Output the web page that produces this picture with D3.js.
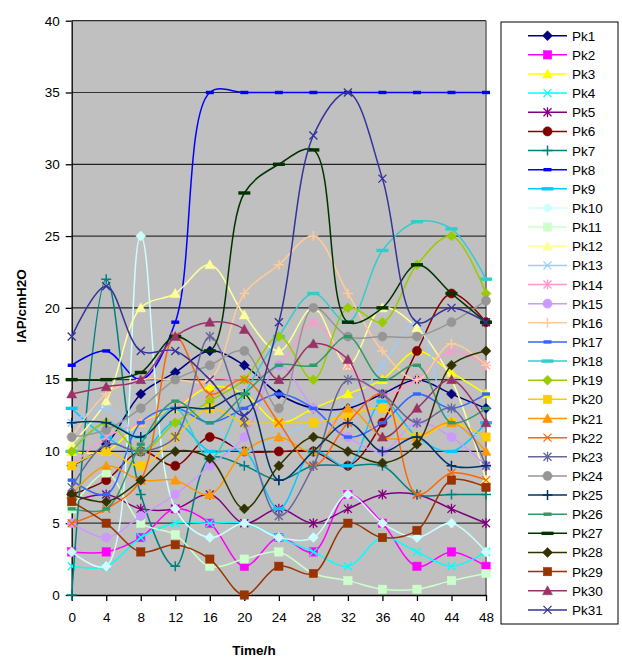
<!DOCTYPE html>
<html>
<head>
<meta charset="utf-8">
<script src="https://cdn.jsdelivr.net/npm/d3@7"></script>
<style>
  body { margin: 0; background: #fff; }
  text { font-family: Arial, "Liberation Sans", sans-serif; }
</style>
</head>
<body>
<svg id="chart" width="622" height="657"></svg>
<script>
// Hours after admission and the axis tick values
const hours = [0, 4, 8, 12, 16, 20, 24, 28, 32, 36, 40, 44, 48];
const yTicks = [0, 5, 10, 15, 20, 25, 30, 35, 40];

// Intra-abdominal pressure (cmH2O) per patient at each time point
const pk1  = [9, 10.5, 14, 15.5, 17, 16, 14, 13, 13, 14, 15, 14, 13];
const pk2  = [3, 3, 4, 6, 5, 2, 4, 3, 7, 5, 2, 3, 2];
const pk3  = [10, 10, 12, 13, 14.5, 14, 12, 13, 14, 15, 17, 15.5, 14];
const pk4  = [2, 2, 4, 5, 5, 5, 4, 3, 2, 4, 3, 2, 3];
const pk5  = [6.5, 7, 6, 6, 7, 5, 6, 5, 6, 7, 7, 6, 5];
const pk6  = [7, 8, 10, 9, 11, 10, 10, 10, 9, 12, 17, 21, 19];
const pk7  = [0, 22, 7, 2, 9.5, 9, 8, 9, 9, 9, 7, 7, 7];
const pk8  = [16, 17, 15, 19, 35, 35, 35, 35, 35, 35, 35, 35, 35];
const pk9  = [13, 11, 10, 12, 10, 10, 6, 10, 9, 13.5, 11, 10, 12];
const pk10 = [3, 2, 25, 6, 4, 5, 4, 4, 7, 5, 4, 5, 3];
const pk11 = [6, 8.5, 5, 4.2, 2, 2.5, 3, 1.5, 1, 0.4, 0.4, 1, 1.5];
const pk12 = [10.5, 13.5, 20, 21, 23, 19.5, 17, 20, 16, 20, 18.6, 15, 8];
const pk13 = [12, 13, 11, 13, 12, 10, 11, 12, 13, 16, 19, 12, 11];
const pk14 = [9, 11, 12, 13, 15, 15, 16, 19, 16, 14, 15, 17, 16];
const pk15 = [5, 4, 5.5, 7, 9, 11, 16, 13, 11, 10, 12, 11, 9];
const pk16 = [11, 14, 15, 15, 15, 21, 23, 25, 21, 17, 15, 17.5, 16];
const pk17 = [8, 7, 12, 13, 12, 13, 14, 13, 11, 12, 14, 13, 14];
const pk18 = [10, 12, 11, 13, 9.5, 14, 18, 21, 19, 24, 26, 25.5, 22];
const pk19 = [10, 12, 10, 12, 13.5, 15, 18, 15, 20, 19, 23, 25, 21];
const pk20 = [9, 10, 9, 11, 13, 12, 12, 12, 12.5, 13, 11, 12, 11];
const pk21 = [7, 9, 8, 8, 7, 10, 11, 10, 13, 11, 11, 12, 10];
const pk22 = [5, 6, 8, 18, 14, 15, 12, 9, 12, 14, 7, 8.5, 8];
const pk23 = [7.5, 10.5, 10, 11, 18, 12, 5.5, 9, 15, 14, 12, 13, 9];
const pk24 = [11, 11.5, 13, 15, 16, 17, 13, 20, 18, 18, 18, 19, 20.5];
const pk25 = [12, 12, 11, 13, 13, 14, 8, 10, 12, 10, 11, 9, 9];
const pk26 = [6, 6, 10.5, 13.5, 12, 14, 16, 16, 18, 15, 16, 12, 13];
const pk27 = [15, 15, 15.5, 18, 17, 28, 30, 31, 19, 20, 23, 21, 19];
const pk28 = [7, 6.5, 8, 10, 9.5, 6, 9, 11, 10, 9.2, 10.5, 16, 17];
const pk29 = [6.5, 5, 3, 3.5, 2.5, 0, 2, 1.5, 5, 4, 4.5, 8, 7.5];
const pk30 = [14, 14.5, 15, 18, 19, 18.5, 15, 17.5, 16.4, 11, 13, 15, 12];
const pk31 = [18, 21.5, 17, 17, 15, 12.5, 19, 32, 35, 29, 19, 20, 19];

const seriesValues = [pk1, pk2, pk3, pk4, pk5, pk6, pk7, pk8, pk9, pk10, pk11,
  pk12, pk13, pk14, pk15, pk16, pk17, pk18, pk19, pk20, pk21, pk22, pk23, pk24,
  pk25, pk26, pk27, pk28, pk29, pk30, pk31];
const seriesNames = seriesValues.map((_, i) => "Pk" + (i + 1));
const seriesColors = ["#000080", "#FF00FF", "#FFFF00", "#00FFFF", "#800080",
  "#800000", "#008080", "#0000FF", "#00CCFF", "#CCFFFF", "#CCFFCC", "#FFFF99",
  "#99CCFF", "#FF99CC", "#CC99FF", "#FFCC99", "#3366FF", "#33CCCC", "#99CC00",
  "#FFCC00", "#FF9900", "#FF6600", "#666699", "#969696", "#003366", "#339966",
  "#003300", "#333300", "#993300", "#993366", "#333399"];
const markerCycle = ["diamond", "square", "triangle", "x", "star", "circle",
  "plus", "shortdash", "longdash"];

const svg = d3.select("#chart");

const plot = { left: 71.7, right: 486, top: 20.7, bottom: 595 };
const x = d3.scaleLinear().domain([0, 48]).range([plot.left, plot.right]);
const y = d3.scaleLinear().domain([0, 40]).range([plot.bottom, plot.top]);

// plot area
svg.append("rect")
  .attr("x", plot.left).attr("y", plot.top)
  .attr("width", plot.right - plot.left).attr("height", plot.bottom - plot.top)
  .attr("fill", "#C0C0C0");
svg.append("line").attr("x1", plot.left).attr("x2", plot.right)
  .attr("y1", plot.top).attr("y2", plot.top).attr("stroke", "#000").attr("stroke-width", 1);
svg.append("line").attr("x1", plot.right).attr("x2", plot.right)
  .attr("y1", plot.top).attr("y2", plot.bottom).attr("stroke", "#666").attr("stroke-width", 1.5);

// horizontal gridlines
svg.append("g").selectAll("line")
  .data(yTicks.filter(t => t > 0 && t < 40))
  .join("line")
  .attr("x1", plot.left).attr("x2", plot.right)
  .attr("y1", d => y(d)).attr("y2", d => y(d))
  .attr("stroke", (d, i) => i % 2 === 0 ? "#333" : "#222")
  .attr("stroke-width", 1.2);

// axes
const yAxis = svg.append("g")
  .attr("transform", `translate(${plot.left},0)`)
  .call(d3.axisLeft(y).tickValues(yTicks).tickSize(6).tickPadding(6).tickSizeOuter(0));
const xAxis = svg.append("g")
  .attr("transform", `translate(0,${plot.bottom})`)
  .call(d3.axisBottom(x).tickValues(hours).tickSize(6).tickPadding(11).tickSizeOuter(0));
[yAxis, xAxis].forEach(a => {
  a.selectAll("path, line").attr("stroke", "#000").attr("stroke-width", 1.3);
  a.selectAll("text").attr("font-size", 13.5).attr("fill", "#000")
    .style("font-family", "Arial, 'Liberation Sans', sans-serif");
});

// axis titles
svg.append("text")
  .attr("x", 254).attr("y", 655)
  .attr("text-anchor", "middle")
  .attr("font-size", 13.5).attr("font-weight", "bold")
  .text("Time/h");
svg.append("text")
  .attr("transform", "translate(26,306) rotate(-90)")
  .attr("text-anchor", "middle")
  .attr("font-size", 13.5).attr("font-weight", "bold")
  .text("IAP/cmH2O");

// marker drawing
function drawMarker(g, type, color, cx, cy) {
  switch (type) {
    case "diamond":
      g.append("path").attr("d", `M${cx},${cy - 5}L${cx + 5},${cy}L${cx},${cy + 5}L${cx - 5},${cy}Z`)
        .attr("fill", color).attr("stroke", color).attr("stroke-width", 0.5);
      break;
    case "square":
      g.append("rect").attr("x", cx - 4.2).attr("y", cy - 4.2).attr("width", 8.4).attr("height", 8.4)
        .attr("fill", color).attr("stroke", color).attr("stroke-width", 0.5);
      break;
    case "triangle":
      g.append("path").attr("d", `M${cx},${cy - 5}L${cx + 5},${cy + 4}L${cx - 5},${cy + 4}Z`)
        .attr("fill", color).attr("stroke", color).attr("stroke-width", 0.5);
      break;
    case "x":
      g.append("path").attr("d", `M${cx - 4},${cy - 4}L${cx + 4},${cy + 4}M${cx - 4},${cy + 4}L${cx + 4},${cy - 4}`)
        .attr("stroke", color).attr("stroke-width", 1.3).attr("fill", "none");
      break;
    case "star":
      g.append("path").attr("d", `M${cx - 4},${cy - 4}L${cx + 4},${cy + 4}M${cx - 4},${cy + 4}L${cx + 4},${cy - 4}M${cx},${cy - 5}L${cx},${cy + 5}`)
        .attr("stroke", color).attr("stroke-width", 1.3).attr("fill", "none");
      break;
    case "circle":
      g.append("circle").attr("cx", cx).attr("cy", cy).attr("r", 4.6)
        .attr("fill", color).attr("stroke", color).attr("stroke-width", 0.5);
      break;
    case "plus":
      g.append("path").attr("d", `M${cx - 5},${cy}L${cx + 5},${cy}M${cx},${cy - 5}L${cx},${cy + 5}`)
        .attr("stroke", color).attr("stroke-width", 1.5).attr("fill", "none");
      break;
    case "shortdash":
      g.append("rect").attr("x", cx - 4).attr("y", cy - 1.7).attr("width", 8).attr("height", 3.4)
        .attr("fill", color);
      break;
    case "longdash":
      g.append("rect").attr("x", cx - 6).attr("y", cy - 1.7).attr("width", 12).attr("height", 3.4)
        .attr("fill", color);
      break;
  }
}

// smoothed series lines with markers
const line = d3.line()
  .x((d, i) => x(hours[i]))
  .y(d => y(d))
  .curve(d3.curveCatmullRom.alpha(0.5));

const seriesLayer = svg.append("g");
seriesValues.forEach((vals, si) => {
  const g = seriesLayer.append("g");
  const color = seriesColors[si];
  g.append("path").datum(vals)
    .attr("d", line)
    .attr("fill", "none")
    .attr("stroke", color)
    .attr("stroke-width", 1.5);
  const type = markerCycle[si % markerCycle.length];
  vals.forEach((v, i) => drawMarker(g, type, color, x(hours[i]), y(v)));
});

// legend
const legend = svg.append("g");
legend.append("rect")
  .attr("x", 501).attr("y", 22).attr("width", 117).attr("height", 602)
  .attr("fill", "#fff").attr("stroke", "#000").attr("stroke-width", 1);
seriesNames.forEach((name, i) => {
  const ly = 35.7 + i * 19.14;
  const color = seriesColors[i];
  const g = legend.append("g");
  g.append("line").attr("x1", 528).attr("x2", 567).attr("y1", ly).attr("y2", ly)
    .attr("stroke", color).attr("stroke-width", 1.5);
  drawMarker(g, markerCycle[i % markerCycle.length], color, 547.5, ly);
  g.append("text").attr("x", 572).attr("y", ly + 5)
    .attr("font-size", 13.5).attr("fill", "#000").text(name);
});
</script>
</body>
</html>
